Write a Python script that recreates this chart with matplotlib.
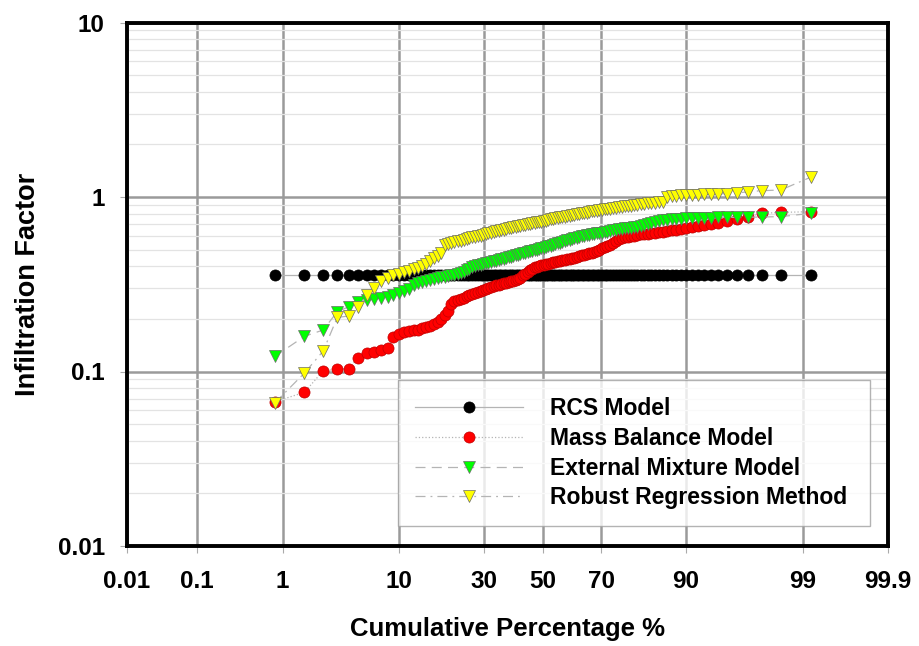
import numpy as np
import matplotlib
matplotlib.use("Agg")
import matplotlib.pyplot as plt
from matplotlib.ticker import NullLocator, FixedLocator, FixedFormatter, LogLocator
from statistics import NormalDist

plt.rcParams['font.family'] = ['Liberation Sans', 'DejaVu Sans']
plt.rcParams['font.weight'] = 'bold'

# ---------------- data ----------------
x_ticks = [0.01, 0.1, 1, 10, 30, 50, 70, 90, 99, 99.9]
x_tick_labels = ["0.01", "0.1", "1", "10", "30", "50", "70", "90", "99", "99.9"]
y_ticks = [0.01, 0.1, 1, 10]
y_tick_labels = ["0.01", "0.1", "1", "10"]

series_names = ["RCS Model", "Mass Balance Model", "External Mixture Model",
                "Robust Regression Method"]

rcs = [0.357] * 120

mass_balance = [
    0.067, 0.076, 0.101, 0.103, 0.104, 0.120, 0.128, 0.130, 0.133, 0.136,
    0.158, 0.165, 0.168, 0.170, 0.172, 0.174, 0.177, 0.180, 0.183, 0.188,
    0.193, 0.200, 0.210, 0.222, 0.245, 0.253, 0.257, 0.261, 0.265, 0.270,
    0.274, 0.278, 0.282, 0.285, 0.288, 0.292, 0.297, 0.302, 0.306, 0.309,
    0.312, 0.315, 0.318, 0.320, 0.323, 0.326, 0.329, 0.332, 0.334, 0.338,
    0.345, 0.355, 0.364, 0.372, 0.380, 0.388, 0.395, 0.399, 0.402, 0.405,
    0.407, 0.411, 0.415, 0.419, 0.422, 0.425, 0.428, 0.431, 0.434, 0.437,
    0.440, 0.443, 0.446, 0.450, 0.454, 0.458, 0.463, 0.467, 0.471, 0.475,
    0.478, 0.483, 0.492, 0.500, 0.508, 0.517, 0.525, 0.534, 0.548, 0.562,
    0.572, 0.580, 0.587, 0.592, 0.597, 0.601, 0.605, 0.610, 0.614, 0.617,
    0.621, 0.625, 0.629, 0.633, 0.638, 0.643, 0.648, 0.658, 0.664, 0.670,
    0.678, 0.688, 0.698, 0.710, 0.725, 0.748, 0.771, 0.806, 0.816, 0.824,
]

external_mixture = [
    0.122, 0.159, 0.173, 0.220, 0.235, 0.251, 0.256, 0.259, 0.265, 0.269,
    0.274, 0.283, 0.290, 0.297, 0.315, 0.322, 0.327, 0.332, 0.336, 0.340,
    0.343, 0.346, 0.349, 0.352, 0.356, 0.359, 0.362, 0.366, 0.372, 0.380,
    0.388, 0.395, 0.400, 0.405, 0.410, 0.414, 0.418, 0.421, 0.425, 0.428,
    0.431, 0.436, 0.440, 0.444, 0.448, 0.452, 0.456, 0.460, 0.464, 0.468,
    0.472, 0.476, 0.480, 0.484, 0.488, 0.492, 0.496, 0.500, 0.504, 0.508,
    0.512, 0.517, 0.522, 0.527, 0.532, 0.537, 0.542, 0.548, 0.554, 0.560,
    0.565, 0.570, 0.575, 0.580, 0.585, 0.590, 0.594, 0.598, 0.602, 0.606,
    0.610, 0.614, 0.618, 0.620, 0.623, 0.627, 0.632, 0.638, 0.643, 0.647,
    0.652, 0.656, 0.660, 0.664, 0.668, 0.672, 0.676, 0.680, 0.688, 0.697,
    0.708, 0.718, 0.728, 0.736, 0.742, 0.746, 0.749, 0.752, 0.755, 0.757,
    0.759, 0.761, 0.762, 0.763, 0.764, 0.765, 0.766, 0.768, 0.772, 0.806,
]

robust_regression = [
    0.066, 0.098, 0.131, 0.204, 0.208, 0.235, 0.274, 0.300, 0.330, 0.345,
    0.355, 0.362, 0.370, 0.378, 0.385, 0.393, 0.403, 0.415, 0.430, 0.445,
    0.458, 0.475, 0.530, 0.538, 0.544, 0.549, 0.556, 0.563, 0.570, 0.578,
    0.583, 0.588, 0.592, 0.596, 0.601, 0.606, 0.612, 0.618, 0.624, 0.630,
    0.636, 0.641, 0.646, 0.651, 0.656, 0.661, 0.665, 0.670, 0.674, 0.678,
    0.682, 0.687, 0.691, 0.696, 0.700, 0.705, 0.710, 0.715, 0.719, 0.722,
    0.726, 0.732, 0.738, 0.744, 0.750, 0.755, 0.760, 0.764, 0.768, 0.771,
    0.775, 0.780, 0.786, 0.791, 0.796, 0.801, 0.805, 0.809, 0.815, 0.820,
    0.826, 0.831, 0.836, 0.841, 0.845, 0.849, 0.853, 0.858, 0.863, 0.868,
    0.873, 0.878, 0.883, 0.888, 0.893, 0.898, 0.903, 0.908, 0.913, 0.919,
    0.924, 0.929, 0.934, 0.940, 1.005, 1.012, 1.018, 1.022, 1.026, 1.029,
    1.032, 1.035, 1.038, 1.041, 1.045, 1.052, 1.072, 1.087, 1.097, 1.297,
]

# cumulative percentage (Weibull plotting position rank/(n+1))
n_obs = len(rcs)
cum_pct = [100.0 * r / (n_obs + 1) for r in range(1, n_obs + 1)]

# ---------------- normal-probability scale ----------------
_nd = NormalDist()


def _ppf1(q):
    if not np.isfinite(q):
        return np.nan
    q = min(max(q, 1e-12), 1 - 1e-12)
    return _nd.inv_cdf(q)


def _cdf1(z):
    if not np.isfinite(z):
        return np.nan
    return _nd.cdf(z)


_vppf = np.vectorize(_ppf1, otypes=[float])
_vcdf = np.vectorize(_cdf1, otypes=[float])


def prob_forward(p):
    p = np.asarray(p, dtype=float)
    return _vppf(p / 100.0)


def prob_inverse(z):
    z = np.asarray(z, dtype=float)
    return _vcdf(z) * 100.0


# ---------------- figure ----------------
fig = plt.figure(figsize=(9.2, 6.46), dpi=100)
ax = fig.add_axes([127 / 920, 1 - 546 / 646, (888 - 127) / 920, (546 - 22.5) / 646])

ax.set_xscale('function', functions=(prob_forward, prob_inverse))
ax.set_yscale('log')
ax.set_xlim(0.01, 99.9)
ax.set_ylim(0.01, 10)

line_gray = '#b4b4b4'
styles = [
    dict(marker='o', color='black', mec='black', ms=8.0, ls='-', dashes=None),
    dict(marker='o', color='#ff0000', mec='#c00000', ms=8.0, ls=':', dashes=None),
    dict(marker='v', color='#00ff00', mec='#6a6a6a', ms=9.2, ls='--', dashes=(8, 5)),
    dict(marker='v', color='#ffff00', mec='#6a6a6a', ms=9.2, ls='-.', dashes=(8, 4, 1.5, 4)),
]
all_series = [rcs, mass_balance, external_mixture, robust_regression]

for k, (vals, name, st) in enumerate(zip(all_series, series_names, styles)):
    kw = dict(color=line_gray, lw=0.9, marker=st['marker'], markersize=st['ms'],
              markerfacecolor=st['color'], markeredgecolor=st['mec'],
              markeredgewidth=0.5, label=name, zorder=3 + k)
    if st['dashes'] is not None:
        ln, = ax.plot(cum_pct, vals, **kw)
        ln.set_dashes(st['dashes'])
    else:
        ax.plot(cum_pct, vals, linestyle=st['ls'], **kw)

# ticks & grid
ax.xaxis.set_major_locator(FixedLocator(x_ticks))
ax.xaxis.set_major_formatter(FixedFormatter(x_tick_labels))
ax.xaxis.set_minor_locator(NullLocator())
ax.yaxis.set_major_locator(FixedLocator(y_ticks))
ax.yaxis.set_major_formatter(FixedFormatter(y_tick_labels))
ax.yaxis.set_minor_locator(LogLocator(base=10, subs=np.arange(2, 10), numticks=20))

ax.grid(True, which='major', axis='both', color='#9a9a9a', lw=1.8, zorder=1)
ax.grid(True, which='minor', axis='y', color='#e3e3e3', lw=0.9, zorder=0)
ax.set_axisbelow(True)

ax.tick_params(axis='both', which='major', length=5, width=0.8, color='#aaaaaa',
               labelsize=17.5)
ax.tick_params(axis='x', which='major', pad=12.5)
ax.tick_params(axis='y', which='major', pad=11)
ax.tick_params(axis='y', which='minor', length=0)
for lab in ax.get_xticklabels() + ax.get_yticklabels():
    lab.set_fontweight('bold')

for sp in ax.spines.values():
    sp.set_linewidth(2.8)
    sp.set_color('black')

ax.set_xlabel('Cumulative Percentage %', fontsize=18.5, fontweight='bold', labelpad=17)
ax.set_ylabel('Infiltration Factor', fontsize=19.5, fontweight='bold', labelpad=12)

leg = ax.legend(loc='upper left', bbox_to_anchor=(0.356, 0.317, 0.62, 0.0),
                mode='expand', frameon=True, fancybox=False, numpoints=1,
                prop=dict(size=16.5, weight='bold'), handlelength=4.7,
                handletextpad=1.2, labelspacing=0.29, borderpad=0.75,
                borderaxespad=0.0)
leg.get_frame().set_edgecolor('#a0a0a0')
leg.get_frame().set_linewidth(1.0)
leg.set_zorder(10)

fig.savefig('out.png', dpi=100)
